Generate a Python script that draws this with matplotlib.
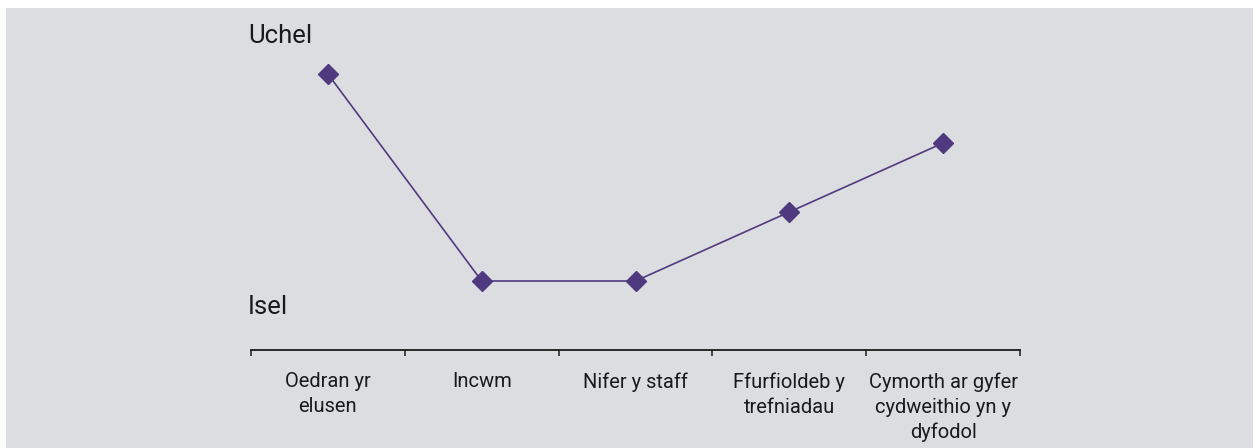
"""Line chart: Uchel / Isel ratings across five charity factors."""
import matplotlib.pyplot as plt
from matplotlib.patches import Rectangle
from matplotlib.transforms import blended_transform_factory

# data
categories = [
    "Oedran yr\nelusen",
    "Incwm",
    "Nifer y staff",
    "Ffurfioldeb y\ntrefniadau",
    "Cymorth ar gyfer\ncydweithio yn y\ndyfodol",
]
levels = [3, 0, 0, 1, 2]
high_label = "Uchel"
low_label = "Isel"

# style
BG = "#dcdde0"
PURPLE = "#503a7f"
INK = "#1a1a1a"
plt.rcParams["font.family"] = ["Roboto", "DejaVu Sans"]

W, H, DPI = 1259, 448, 100
fig = plt.figure(figsize=(W / DPI, H / DPI), dpi=DPI, facecolor="white")

# grey panel with thin white margin at top / sides
fig.patches.append(
    Rectangle((6 / W, 0), (1253 - 6) / W, 440 / H,
              transform=fig.transFigure, facecolor=BG, edgecolor="none", zorder=-5)
)

# axes: x from 251px to 1020px, bottom spine at y=350px
ax = fig.add_axes([251 / W, (H - 350) / H, (1020 - 251) / W, 345 / H])
ax.set_facecolor("none")
ax.set_zorder(2)

x = list(range(len(categories)))
ax.plot(x, levels, color=PURPLE, lw=1.2, marker="D", ms=10.5,
        markerfacecolor=PURPLE, markeredgecolor=PURPLE, zorder=3)

ax.set_xlim(-0.5, len(categories) - 0.5)
ax.set_ylim(-1, 4)

for side in ["top", "right", "left"]:
    ax.spines[side].set_visible(False)
ax.spines["bottom"].set_color(INK)
ax.spines["bottom"].set_linewidth(1.3)

# boundary ticks (major) and category labels (minor)
ax.set_xticks([i - 0.5 for i in range(len(categories) + 1)])
ax.set_xticklabels([])
ax.tick_params(axis="x", which="major", direction="out", length=4.5,
               width=1.1, color=INK)
ax.set_xticks(x, categories, minor=True)
ax.tick_params(axis="x", which="minor", length=0, pad=16, labelsize=14.5,
               labelcolor=INK)
for lbl in ax.get_xticklabels(minor=True):
    lbl.set_linespacing(1.4)
ax.set_yticks([])

trans = blended_transform_factory(ax.transData, ax.transData)
ax.text(-0.52, 3.55, high_label, ha="left", va="center", fontsize=18.5,
        color=INK, transform=trans)
ax.text(-0.52, -0.38, low_label, ha="left", va="center", fontsize=18.5,
        color=INK, transform=trans)

fig.savefig("out.png", dpi=DPI, facecolor="white")
